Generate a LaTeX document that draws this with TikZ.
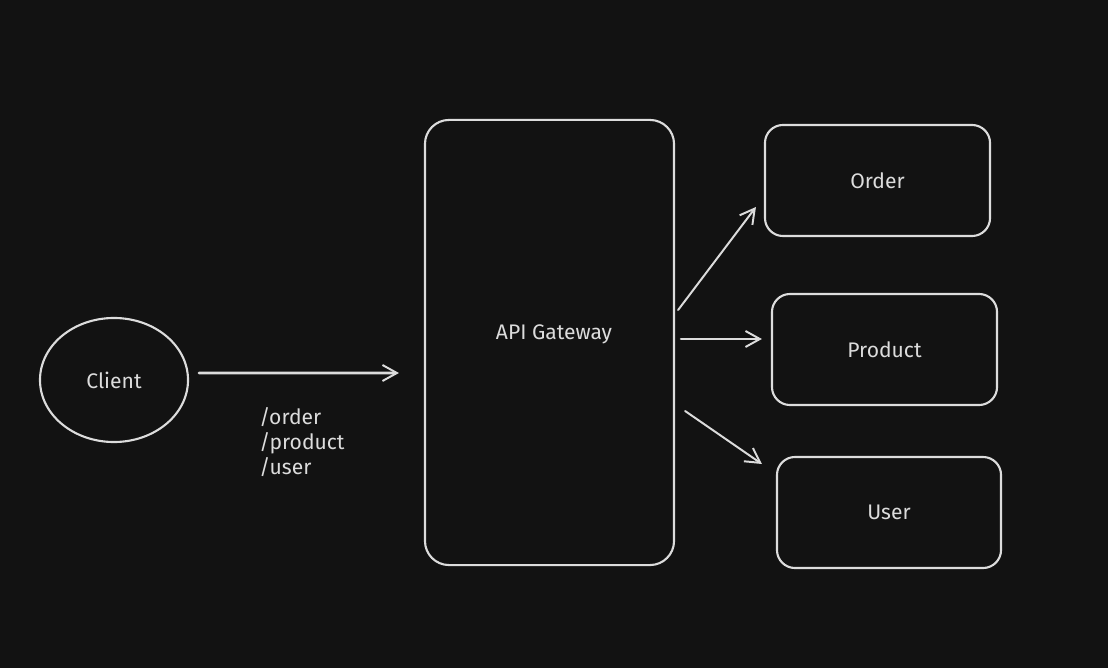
\documentclass[tikz,border=0pt]{standalone}
\usepackage{fontspec}
\setmainfont{Fira Sans}
\usetikzlibrary{calc,shapes,arrows.meta}

\definecolor{bg}{HTML}{121212}
\definecolor{ink}{HTML}{DCDCDC}

\begin{document}
\begin{tikzpicture}[x=0.025cm, y=-0.025cm,
    every node/.style={text=ink, font=\fontsize{15}{18}\selectfont},
    box/.style={rectangle, draw=ink, line width=1.5pt, rounded corners=0.45cm},
    flow/.style={draw=ink, line width=1.4pt, line cap=round, -{Straight Barb[length=0.36cm, width=0.4cm, line width=1.4pt]}}]
    % Background
    \fill [bg] (0,0) rectangle (1108,668);
    % Place nodes
    \node [ellipse, draw=ink, line width=1.5pt, minimum width=3.7cm, minimum height=3.1cm] (client) at (114,380) {Client};
    \node [box, minimum width=6.225cm, minimum height=11.125cm, rounded corners=0.6cm] (gw) at (549.5,342.5) {};
    \node (gwtext) at (554,334) {API Gateway};
    \node [box, minimum width=5.625cm, minimum height=2.775cm] (order) at (877.5,180.5) {Order};
    \node [box, minimum width=5.625cm, minimum height=2.775cm] (product) at (884.5,349.5) {Product};
    \node [box, minimum width=5.6cm, minimum height=2.775cm] (user) at (889,512.5) {User};
    \node [anchor=north west, align=left, inner sep=0pt, font=\fontsize{15}{17.8}\selectfont] (routes) at (259,407) {/order\\/product\\/user};
    % Connectors
    \path [flow, line width=2pt] ($(client.east)+(10,-7)$) -- ($(gw.west)+(-25,30.5)$);
    \path [flow] ($(gw.east)+(3,-32.5)$) -- ($(order.west)+(-8,26.5)$);
    \path [flow, line width=2pt] ($(gw.east)+(6,-3.5)$) -- ($(product.west)+(-9,-10.5)$);
    \path [flow] ($(gw.east)+(10,68.5)$) -- ($(user.west)+(-14,-48.5)$);
\end{tikzpicture}
\end{document}
